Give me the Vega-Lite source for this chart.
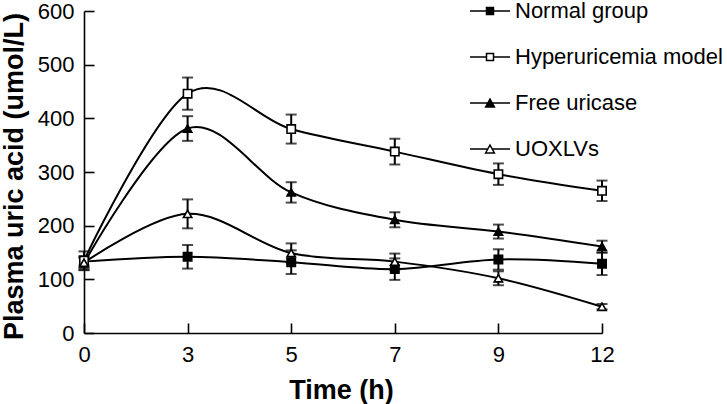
{
  "$schema": "https://vega.github.io/schema/vega-lite/v6.json",
  "description": "Plasma uric acid over time for four groups.",
  "width": 518,
  "height": 322,
  "autosize": {"type": "none"},
  "padding": {"left": 84, "top": 11, "right": 125, "bottom": 71},
  "data": {
    "values": [
      {"Group": "Normal group", "Time": 0, "value": 133, "sd": 7},
      {"Group": "Normal group", "Time": 3, "value": 142, "sd": 22},
      {"Group": "Normal group", "Time": 5, "value": 132, "sd": 22},
      {"Group": "Normal group", "Time": 7, "value": 119, "sd": 20},
      {"Group": "Normal group", "Time": 9, "value": 137, "sd": 19},
      {"Group": "Normal group", "Time": 12, "value": 129, "sd": 21},
      {"Group": "Hyperuricemia model", "Time": 0, "value": 135, "sd": 17},
      {"Group": "Hyperuricemia model", "Time": 3, "value": 446, "sd": 30},
      {"Group": "Hyperuricemia model", "Time": 5, "value": 380, "sd": 27},
      {"Group": "Hyperuricemia model", "Time": 7, "value": 338, "sd": 24},
      {"Group": "Hyperuricemia model", "Time": 9, "value": 296, "sd": 20},
      {"Group": "Hyperuricemia model", "Time": 12, "value": 265, "sd": 19},
      {"Group": "Free uricase", "Time": 0, "value": 130, "sd": 13},
      {"Group": "Free uricase", "Time": 3, "value": 381, "sd": 23},
      {"Group": "Free uricase", "Time": 5, "value": 262, "sd": 19},
      {"Group": "Free uricase", "Time": 7, "value": 211, "sd": 14},
      {"Group": "Free uricase", "Time": 9, "value": 189, "sd": 13},
      {"Group": "Free uricase", "Time": 12, "value": 161, "sd": 11},
      {"Group": "UOXLVs", "Time": 0, "value": 131, "sd": 10},
      {"Group": "UOXLVs", "Time": 3, "value": 222, "sd": 27},
      {"Group": "UOXLVs", "Time": 5, "value": 149, "sd": 18},
      {"Group": "UOXLVs", "Time": 7, "value": 133, "sd": 15},
      {"Group": "UOXLVs", "Time": 9, "value": 102, "sd": 13},
      {"Group": "UOXLVs", "Time": 12, "value": 49, "sd": 5}
    ]
  },
  "encoding": {
    "x": {
      "field": "Time",
      "type": "ordinal",
      "sort": "ascending",
      "scale": {"type": "point", "padding": 0},
      "title": "Time (h)",
      "axis": {
        "labelAngle": 0,
        "tickSize": -10,
        "labelPadding": 21,
        "labelFontSize": 22,
        "titleX": 257,
        "titleY": 65,
        "titleBaseline": "alphabetic",
        "titleAlign": "center"
      }
    },
    "y": {
      "field": "value",
      "type": "quantitative",
      "scale": {"domain": [0, 600], "nice": false},
      "title": "Plasma uric acid (umol/L)",
      "axis": {
        "values": [0, 100, 200, 300, 400, 500, 600],
        "tickSize": -10,
        "labelPadding": 20,
        "labelFontSize": 22,
        "titleX": -62,
        "titleY": 165,
        "titleAngle": -90,
        "titleBaseline": "alphabetic",
        "titleAlign": "center"
      }
    }
  },
  "layer": [
    {
      "mark": {"type": "line", "interpolate": "cardinal", "color": "black", "strokeWidth": 2},
      "encoding": {"detail": {"field": "Group", "type": "nominal"}}
    },
    {
      "mark": {"type": "errorbar", "ticks": true, "size": 11, "thickness": 2, "color": "black"},
      "encoding": {"yError": {"field": "sd"}}
    },
    {
      "mark": {"type": "point", "filled": true, "size": 70, "stroke": "black", "strokeWidth": 1.6, "opacity": 1},
      "encoding": {
        "shape": {
          "field": "Group",
          "type": "nominal",
          "scale": {
            "domain": ["Normal group", "Hyperuricemia model", "Free uricase", "UOXLVs"],
            "range": ["square", "square", "triangle-up", "triangle-up"]
          },
          "legend": null
        },
        "fill": {
          "field": "Group",
          "type": "nominal",
          "scale": {
            "domain": ["Normal group", "Hyperuricemia model", "Free uricase", "UOXLVs"],
            "range": ["black", "white", "black", "white"]
          },
          "legend": null
        }
      }
    },
    {
      "transform": [{"filter": "false"}],
      "mark": {"type": "point", "filled": true, "stroke": "black", "strokeWidth": 1.6, "opacity": 1},
      "encoding": {
        "shape": {
          "field": "Group",
          "type": "nominal",
          "scale": {
            "domain": ["Normal group", "Hyperuricemia model", "Free uricase", "UOXLVs"],
            "range": [
              "M-1,0H-0.175M0.175,0H1M-0.175,-0.175H0.175V0.175H-0.175Z",
              "M-1,0H-0.175M0.175,0H1M-0.175,-0.175H0.175V0.175H-0.175Z",
              "M-1,0H-0.11M0.11,0H1M-0.22,0.2L0,-0.2L0.22,0.2Z",
              "M-1,0H-0.11M0.11,0H1M-0.22,0.2L0,-0.2L0.22,0.2Z"
            ]
          },
          "legend": {
            "title": null,
            "orient": "none",
            "legendX": 385,
            "legendY": -21,
            "padding": 0,
            "rowPadding": 14,
            "symbolSize": 1600,
            "labelFontSize": 22,
            "labelOffset": 4,
            "labelLimit": 300,
            "labelColor": "black",
            "labelFont": "Liberation Sans",
            "encode": {
              "symbols": {
                "update": {
                  "stroke": {"value": "black"},
                  "strokeWidth": {"value": 1.6},
                  "opacity": {"value": 1},
                  "size": {"value": 1600}
                }
              }
            }
          }
        },
        "fill": {
          "field": "Group",
          "type": "nominal",
          "scale": {
            "domain": ["Normal group", "Hyperuricemia model", "Free uricase", "UOXLVs"],
            "range": ["black", "white", "black", "white"]
          },
          "legend": {
            "title": null,
            "orient": "none",
            "legendX": 385,
            "legendY": -21,
            "padding": 0,
            "rowPadding": 14,
            "symbolSize": 1600,
            "labelFontSize": 22,
            "labelOffset": 4,
            "labelLimit": 300,
            "labelColor": "black",
            "labelFont": "Liberation Sans",
            "encode": {
              "symbols": {
                "update": {
                  "stroke": {"value": "black"},
                  "strokeWidth": {"value": 1.6},
                  "opacity": {"value": 1},
                  "size": {"value": 1600}
                }
              }
            }
          }
        }
      }
    }
  ],
  "resolve": {"scale": {"shape": "independent", "fill": "independent"}},
  "config": {
    "font": "Liberation Sans",
    "view": {"stroke": null},
    "axis": {
      "grid": false,
      "domainColor": "black",
      "domainWidth": 1.6,
      "tickColor": "black",
      "tickWidth": 1.6,
      "labelColor": "black",
      "titleColor": "black",
      "labelFont": "Liberation Sans",
      "titleFont": "Liberation Sans",
      "titleFontSize": 27,
      "titleFontWeight": "bold"
    }
  }
}
